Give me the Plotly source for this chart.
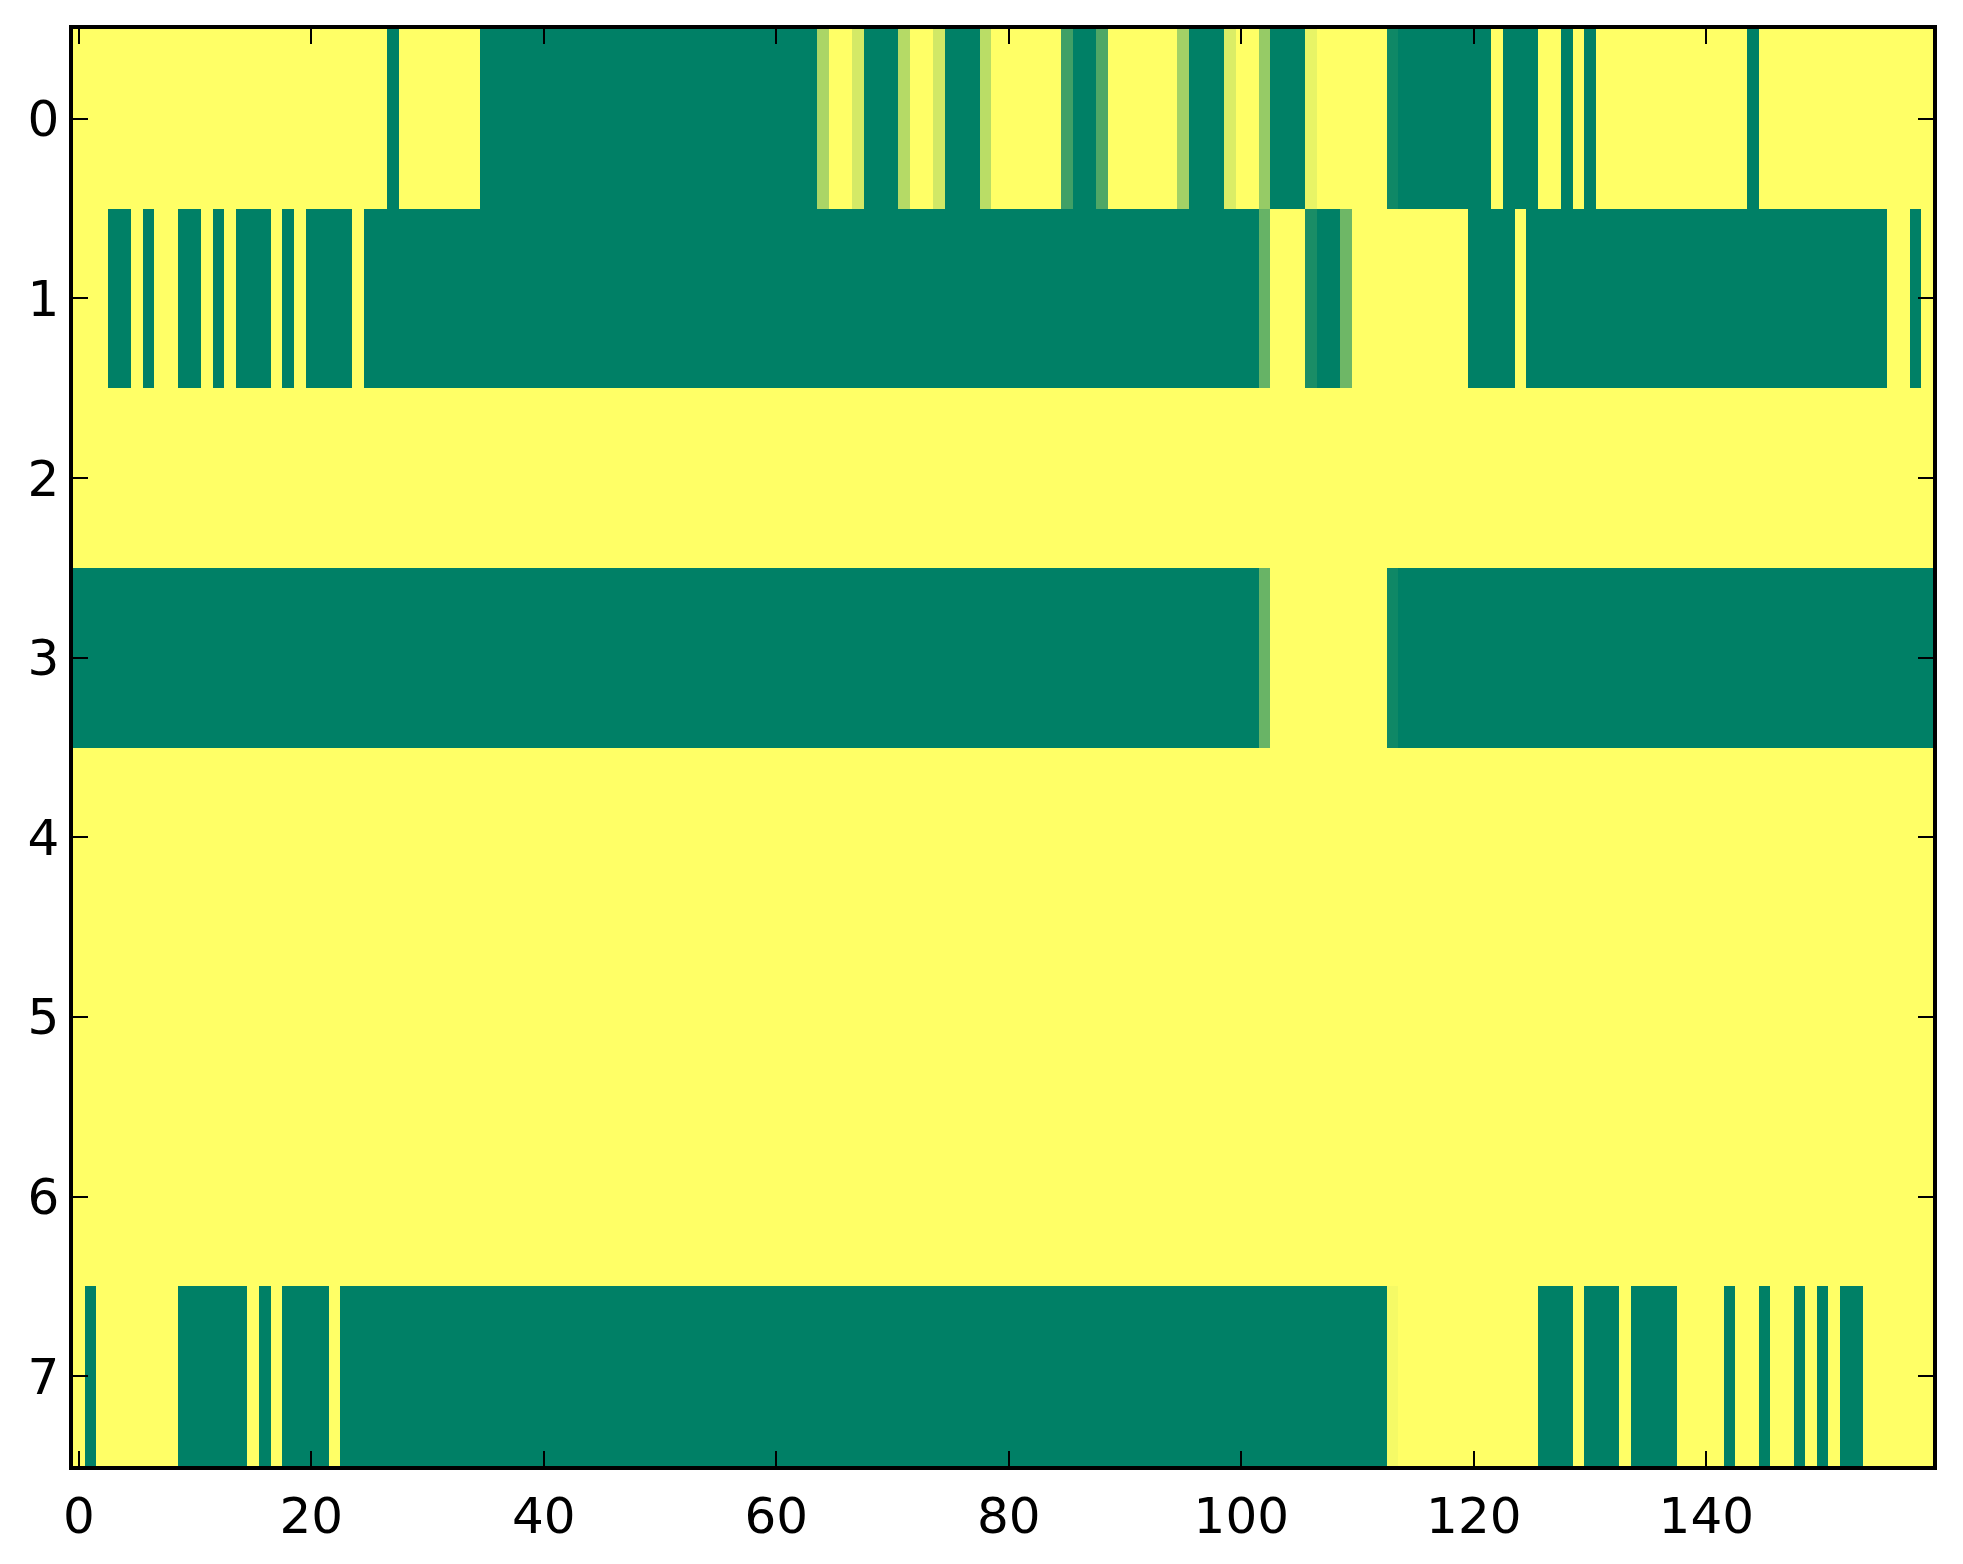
import plotly.graph_objects as go

# column index along x, row index along y
cols = list(range(160))
rows = [0, 1, 2, 3, 4, 5, 6, 7]

xtick_vals = [0, 20, 40, 60, 80, 100, 120, 140]
ytick_vals = [0, 1, 2, 3, 4, 5, 6, 7]

row0 = [1, 1, 1, 1, 1, 1, 1, 1, 1, 1, 1, 1, 1, 1, 1, 1, 1, 1, 1, 1,
        1, 1, 1, 1, 1, 1, 1, 0, 1, 1, 1, 1, 1, 1, 1, 0, 0, 0, 0, 0,
        0, 0, 0, 0, 0, 0, 0, 0, 0, 0, 0, 0, 0, 0, 0, 0, 0, 0, 0, 0,
        0, 0, 0, 0, .67, 1, 1, .83, 0, 0, 0, .71, 1, 1, .82, 0, 0, 0, .73, 1,
        1, 1, 1, 1, 1, .25, 0, 0, .31, 1, 1, 1, 1, 1, 1, .64, 0, 0, 0, .86,
        1, 1, .59, 0, 0, 0, .91, 1, 1, 1, 1, 1, 1, .06, 0, 0, 0, 0, 0, 0,
        0, 0, 1, 0, 0, 0, 1, 1, 0, 1, 0, 1, 1, 1, 1, 1, 1, 1, 1, 1,
        1, 1, 1, 1, 0, 1, 1, 1, 1, 1, 1, 1, 1, 1, 1, 1, 1, 1, 1, 1]

row1 = [1, 1, 1, 0, 0, 1, 0, 1, 1, 0, 0, 1, 0, 1, 0, 0, 0, 1, 0, 1,
        0, 0, 0, 0, 1, 0, 0, 0, 0, 0, 0, 0, 0, 0, 0, 0, 0, 0, 0, 0,
        0, 0, 0, 0, 0, 0, 0, 0, 0, 0, 0, 0, 0, 0, 0, 0, 0, 0, 0, 0,
        0, 0, 0, 0, 0, 0, 0, 0, 0, 0, 0, 0, 0, 0, 0, 0, 0, 0, 0, 0,
        0, 0, 0, 0, 0, 0, 0, 0, 0, 0, 0, 0, 0, 0, 0, 0, 0, 0, 0, 0,
        0, 0, .40, 1, 1, 1, .10, 0, 0, .43, 1, 1, 1, 1, 1, 1, 1, 1, 1, 1,
        0, 0, 0, 0, 1, 0, 0, 0, 0, 0, 0, 0, 0, 0, 0, 0, 0, 0, 0, 0,
        0, 0, 0, 0, 0, 0, 0, 0, 0, 0, 0, 0, 0, 0, 0, 0, 1, 1, 0, 1]

row2 = [1, 1, 1, 1, 1, 1, 1, 1, 1, 1, 1, 1, 1, 1, 1, 1, 1, 1, 1, 1,
        1, 1, 1, 1, 1, 1, 1, 1, 1, 1, 1, 1, 1, 1, 1, 1, 1, 1, 1, 1,
        1, 1, 1, 1, 1, 1, 1, 1, 1, 1, 1, 1, 1, 1, 1, 1, 1, 1, 1, 1,
        1, 1, 1, 1, 1, 1, 1, 1, 1, 1, 1, 1, 1, 1, 1, 1, 1, 1, 1, 1,
        1, 1, 1, 1, 1, 1, 1, 1, 1, 1, 1, 1, 1, 1, 1, 1, 1, 1, 1, 1,
        1, 1, 1, 1, 1, 1, 1, 1, 1, 1, 1, 1, 1, 1, 1, 1, 1, 1, 1, 1,
        1, 1, 1, 1, 1, 1, 1, 1, 1, 1, 1, 1, 1, 1, 1, 1, 1, 1, 1, 1,
        1, 1, 1, 1, 1, 1, 1, 1, 1, 1, 1, 1, 1, 1, 1, 1, 1, 1, 1, 1]

row3 = [0, 0, 0, 0, 0, 0, 0, 0, 0, 0, 0, 0, 0, 0, 0, 0, 0, 0, 0, 0,
        0, 0, 0, 0, 0, 0, 0, 0, 0, 0, 0, 0, 0, 0, 0, 0, 0, 0, 0, 0,
        0, 0, 0, 0, 0, 0, 0, 0, 0, 0, 0, 0, 0, 0, 0, 0, 0, 0, 0, 0,
        0, 0, 0, 0, 0, 0, 0, 0, 0, 0, 0, 0, 0, 0, 0, 0, 0, 0, 0, 0,
        0, 0, 0, 0, 0, 0, 0, 0, 0, 0, 0, 0, 0, 0, 0, 0, 0, 0, 0, 0,
        0, 0, .41, 1, 1, 1, 1, 1, 1, 1, 1, 1, 1, .06, 0, 0, 0, 0, 0, 0,
        0, 0, 0, 0, 0, 0, 0, 0, 0, 0, 0, 0, 0, 0, 0, 0, 0, 0, 0, 0,
        0, 0, 0, 0, 0, 0, 0, 0, 0, 0, 0, 0, 0, 0, 0, 0, 0, 0, 0, 0]

# rows 4-6 are the same all-yellow row as row 2
row4 = list(row2)
row5 = list(row2)
row6 = list(row2)

row7 = [1, 0, 1, 1, 1, 1, 1, 1, 1, 0, 0, 0, 0, 0, 0, 1, 0, 1, 0, 0,
        0, 0, 1, 0, 0, 0, 0, 0, 0, 0, 0, 0, 0, 0, 0, 0, 0, 0, 0, 0,
        0, 0, 0, 0, 0, 0, 0, 0, 0, 0, 0, 0, 0, 0, 0, 0, 0, 0, 0, 0,
        0, 0, 0, 0, 0, 0, 0, 0, 0, 0, 0, 0, 0, 0, 0, 0, 0, 0, 0, 0,
        0, 0, 0, 0, 0, 0, 0, 0, 0, 0, 0, 0, 0, 0, 0, 0, 0, 0, 0, 0,
        0, 0, 0, 0, 0, 0, 0, 0, 0, 0, 0, 0, 0, .96, 1, 1, 1, 1, 1, 1,
        1, 1, 1, 1, 1, 1, 0, 0, 0, 1, 0, 0, 0, 1, 0, 0, 0, 0, 1, 1,
        1, 1, 0, 1, 1, 0, 1, 1, 0, 1, 0, 1, 0, 0, 1, 1, 1, 1, 1, 1]

z = [row0, row1, row2, row3, row4, row5, row6, row7]

# matplotlib "summer" colormap
summer = [[0, "rgb(0,128,102)"], [1, "rgb(255,255,102)"]]

fig = go.Figure(go.Heatmap(z=z, x=cols, y=rows, colorscale=summer,
                           zmin=0, zmax=1, showscale=False, hoverinfo="skip"))

axis_style = dict(showline=True, linewidth=3.5, linecolor="black", mirror="ticks",
                  ticks="inside", ticklen=15, tickwidth=1.5, tickcolor="black",
                  showgrid=False, zeroline=False)

fig.update_xaxes(range=[-0.5, 159.5], tickvals=xtick_vals, ticklabelstandoff=3, **axis_style)
fig.update_yaxes(range=[7.5, -0.5], tickvals=ytick_vals, ticklabelstandoff=0, **axis_style)

fig.update_layout(width=1963, height=1564,
                  margin=dict(l=65, r=38, t=21, b=106),
                  plot_bgcolor="white", paper_bgcolor="white",
                  font=dict(family="DejaVu Sans", size=50, color="black"))

fig.write_html("out.html")
